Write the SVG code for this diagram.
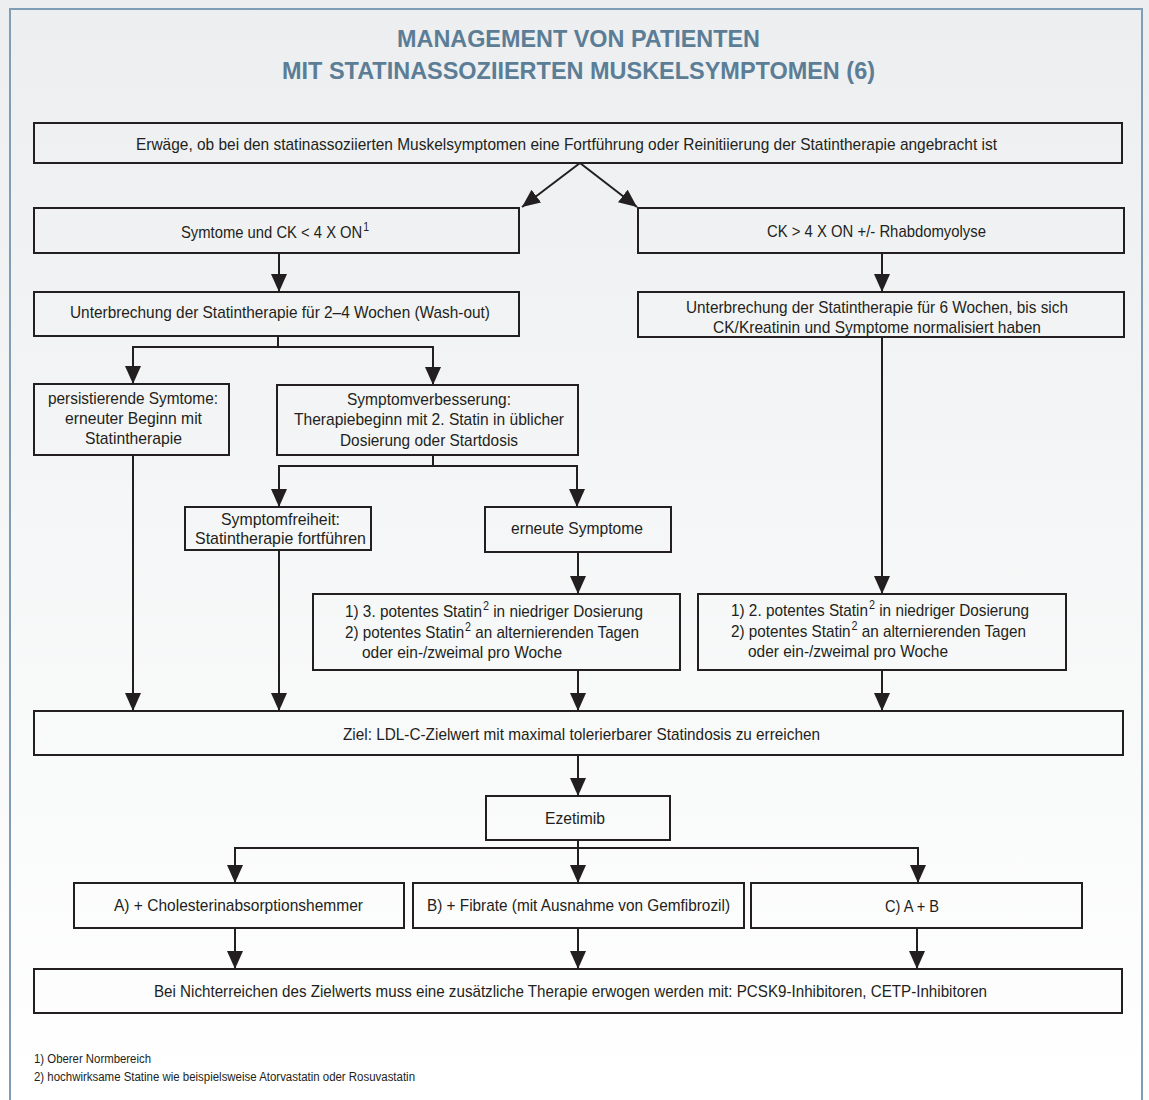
<svg xmlns="http://www.w3.org/2000/svg" width="1149" height="1100" viewBox="0 0 1149 1100">
<defs>
<linearGradient id="bg" x1="0" y1="0" x2="0" y2="1">
<stop offset="0" stop-color="#eceeef"/>
<stop offset="1" stop-color="#ffffff"/>
</linearGradient>
<marker id="ah" viewBox="0 0 18 16" refX="18" refY="8" markerWidth="18" markerHeight="16" markerUnits="userSpaceOnUse" orient="auto">
<path d="M0,0 L18,8 L0,16 z" fill="#231f20"/>
</marker>
<style>
.box{fill:none;stroke:#231f20;stroke-width:2}
.t{font-family:"Liberation Sans",Arial,sans-serif;font-size:17px;fill:#231f20}
.fn{font-family:"Liberation Sans",Arial,sans-serif;font-size:12px;fill:#231f20}
.title{font-family:"Liberation Sans",Arial,sans-serif;font-size:24px;font-weight:bold;fill:#5b7d96}
.c{fill:none;stroke:#231f20;stroke-width:2}
.a{fill:none;stroke:#231f20;stroke-width:2;marker-end:url(#ah)}
.sup{font-size:12px}
</style>
</defs>
<rect x="0" y="0" width="1149" height="1100" fill="url(#bg)"/>
<rect x="10" y="9" width="1132" height="1110" fill="none" stroke="#7f9eb5" stroke-width="2"/>
<g id="title">
<text class="title" x="397" y="47" textLength="363" lengthAdjust="spacingAndGlyphs">MANAGEMENT VON PATIENTEN</text>
<text class="title" x="282" y="79" textLength="593" lengthAdjust="spacingAndGlyphs">MIT STATINASSOZIIERTEN MUSKELSYMPTOMEN (6)</text>
</g>
<g id="connectors">
<line class="a" x1="580" y1="163" x2="522" y2="207"/>
<line class="a" x1="580" y1="163" x2="637" y2="207"/>
<line class="a" x1="279" y1="253" x2="279" y2="292"/>
<line class="a" x1="882" y1="253" x2="882" y2="292"/>
<polyline class="c" points="278,336 278,347"/>
<polyline class="a" points="278,347 133,347 133,384"/>
<polyline class="a" points="278,347 433,347 433,385"/>
<polyline class="c" points="433,455 433,466"/>
<polyline class="a" points="433,466 279,466 279,507"/>
<polyline class="a" points="433,466 577,466 577,507"/>
<line class="a" x1="578" y1="552" x2="578" y2="594"/>
<line class="a" x1="882" y1="337" x2="882" y2="594"/>
<line class="a" x1="133" y1="455" x2="133" y2="711"/>
<line class="a" x1="279" y1="550" x2="279" y2="711"/>
<line class="a" x1="578" y1="670" x2="578" y2="711"/>
<line class="a" x1="882" y1="670" x2="882" y2="711"/>
<line class="a" x1="578" y1="755" x2="578" y2="796"/>
<polyline class="c" points="578,840 578,848"/>
<polyline class="a" points="578,848 235,848 235,883"/>
<polyline class="a" points="578,848 578,883"/>
<polyline class="a" points="578,848 918,848 918,883"/>
<line class="a" x1="235" y1="928" x2="235" y2="969"/>
<line class="a" x1="578" y1="928" x2="578" y2="969"/>
<line class="a" x1="917" y1="928" x2="917" y2="969"/>
</g>
<g id="n-erwaege">
<rect class="box" x="34" y="123" width="1088" height="40"/>
<text class="t" x="136" y="150" textLength="861" lengthAdjust="spacingAndGlyphs">Erwäge, ob bei den statinassoziierten Muskelsymptomen eine Fortführung oder Reinitiierung der Statintherapie angebracht ist</text>
</g>
<g id="n-ck-low">
<rect class="box" x="34" y="208" width="485" height="45"/>
<text class="t" x="181" y="238" textLength="188" lengthAdjust="spacingAndGlyphs">Symtome und CK &lt; 4 X ON<tspan class="sup" dx="1" dy="-7">1</tspan></text>
</g>
<g id="n-ck-high">
<rect class="box" x="638" y="208" width="486" height="45"/>
<text class="t" x="767" y="237" textLength="219" lengthAdjust="spacingAndGlyphs">CK &gt; 4 X ON +/- Rhabdomyolyse</text>
</g>
<g id="n-washout">
<rect class="box" x="34" y="292" width="485" height="44"/>
<text class="t" x="70" y="318" textLength="420" lengthAdjust="spacingAndGlyphs">Unterbrechung der Statintherapie für 2–4 Wochen (Wash-out)</text>
</g>
<g id="n-6wochen">
<rect class="box" x="638" y="292" width="486" height="45"/>
<text class="t" x="686" y="313" textLength="382" lengthAdjust="spacingAndGlyphs">Unterbrechung der Statintherapie für 6 Wochen, bis sich</text>
<text class="t" x="713" y="333" textLength="328" lengthAdjust="spacingAndGlyphs">CK/Kreatinin und Symptome normalisiert haben</text>
</g>
<g id="n-persist">
<rect class="box" x="34" y="384" width="195" height="71"/>
<text class="t" x="48" y="404" textLength="170" lengthAdjust="spacingAndGlyphs">persistierende Symtome:</text>
<text class="t" x="65" y="424" textLength="137" lengthAdjust="spacingAndGlyphs">erneuter Beginn mit</text>
<text class="t" x="85" y="444" textLength="97" lengthAdjust="spacingAndGlyphs">Statintherapie</text>
</g>
<g id="n-verbesserung">
<rect class="box" x="277" y="385" width="301" height="70"/>
<text class="t" x="347" y="405" textLength="164" lengthAdjust="spacingAndGlyphs">Symptomverbesserung:</text>
<text class="t" x="294" y="425" textLength="270" lengthAdjust="spacingAndGlyphs">Therapiebeginn mit 2. Statin in üblicher</text>
<text class="t" x="340" y="446" textLength="178" lengthAdjust="spacingAndGlyphs">Dosierung oder Startdosis</text>
</g>
<g id="n-freiheit">
<rect class="box" x="185" y="507" width="186" height="43"/>
<text class="t" x="221" y="525" textLength="119" lengthAdjust="spacingAndGlyphs">Symptomfreiheit:</text>
<text class="t" x="195" y="544" textLength="171" lengthAdjust="spacingAndGlyphs">Statintherapie fortführen</text>
</g>
<g id="n-erneut">
<rect class="box" x="485" y="507" width="186" height="45"/>
<text class="t" x="511" y="534" textLength="132" lengthAdjust="spacingAndGlyphs">erneute Symptome</text>
</g>
<g id="n-potent3">
<rect class="box" x="313" y="594" width="367" height="76"/>
<text class="t" x="345" y="617" textLength="298" lengthAdjust="spacingAndGlyphs">1) 3. potentes Statin<tspan class="sup" dx="1" dy="-7">2</tspan><tspan dy="7"> in niedriger Dosierung</tspan></text>
<text class="t" x="345" y="638" textLength="294" lengthAdjust="spacingAndGlyphs">2) potentes Statin<tspan class="sup" dx="1" dy="-7">2</tspan><tspan dy="7"> an alternierenden Tagen</tspan></text>
<text class="t" x="362" y="658" textLength="200" lengthAdjust="spacingAndGlyphs">oder ein-/zweimal pro Woche</text>
</g>
<g id="n-potent2">
<rect class="box" x="698" y="594" width="368" height="76"/>
<text class="t" x="731" y="616" textLength="298" lengthAdjust="spacingAndGlyphs">1) 2. potentes Statin<tspan class="sup" dx="1" dy="-7">2</tspan><tspan dy="7"> in niedriger Dosierung</tspan></text>
<text class="t" x="731" y="637" textLength="295" lengthAdjust="spacingAndGlyphs">2) potentes Statin<tspan class="sup" dx="1" dy="-7">2</tspan><tspan dy="7"> an alternierenden Tagen</tspan></text>
<text class="t" x="748" y="657" textLength="200" lengthAdjust="spacingAndGlyphs">oder ein-/zweimal pro Woche</text>
</g>
<g id="n-ziel">
<rect class="box" x="34" y="711" width="1089" height="44"/>
<text class="t" x="343" y="740" textLength="477" lengthAdjust="spacingAndGlyphs">Ziel: LDL-C-Zielwert mit maximal tolerierbarer Statindosis zu erreichen</text>
</g>
<g id="n-ezetimib">
<rect class="box" x="486" y="796" width="184" height="44"/>
<text class="t" x="545" y="824" textLength="60" lengthAdjust="spacingAndGlyphs">Ezetimib</text>
</g>
<g id="n-a">
<rect class="box" x="74" y="883" width="330" height="45"/>
<text class="t" x="114" y="911" textLength="249" lengthAdjust="spacingAndGlyphs">A) + Cholesterinabsorptionshemmer</text>
</g>
<g id="n-b">
<rect class="box" x="413" y="883" width="331" height="45"/>
<text class="t" x="427" y="911" textLength="303" lengthAdjust="spacingAndGlyphs">B) + Fibrate (mit Ausnahme von Gemfibrozil)</text>
</g>
<g id="n-c">
<rect class="box" x="751" y="883" width="331" height="45"/>
<text class="t" x="885" y="912" textLength="54" lengthAdjust="spacingAndGlyphs">C) A + B</text>
</g>
<g id="n-final">
<rect class="box" x="34" y="969" width="1088" height="44"/>
<text class="t" x="154" y="997" textLength="833" lengthAdjust="spacingAndGlyphs">Bei Nichterreichen des Zielwerts muss eine zusätzliche Therapie erwogen werden mit: PCSK9-Inhibitoren, CETP-Inhibitoren</text>
</g>
<g id="footnotes">
<text class="fn" x="34" y="1063" textLength="117" lengthAdjust="spacingAndGlyphs">1) Oberer Normbereich</text>
<text class="fn" x="34" y="1081" textLength="381" lengthAdjust="spacingAndGlyphs">2) hochwirksame Statine wie beispielsweise Atorvastatin oder Rosuvastatin</text>
</g>
</svg>
